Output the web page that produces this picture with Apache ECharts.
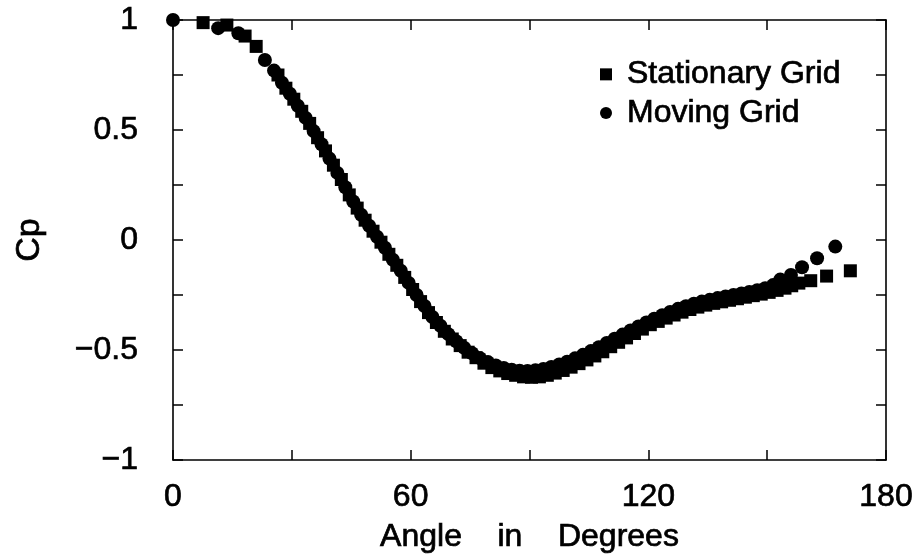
<!DOCTYPE html>
<html>
<head>
<meta charset="utf-8">
<script src="https://cdn.jsdelivr.net/npm/echarts@6/dist/echarts.min.js"></script>
<style>html,body{margin:0;padding:0;background:#fff;}#c{width:919px;height:555px;}</style>
</head>
<body>
<div id="c"></div>
<script>
// Stationary Grid (squares): angle in degrees, Cp
var stationaryAngle = [7.6,13.6,18.2,21,26.5,28.5,30.5,32.5,34.5,36.5,38.5,40.5,42.5,44.5,46.5,48.5,50.5,52.5,54.5,56.5,58.5,60.5,62.5,64.5,66.5,68.5,70.5,72.5,74.5,76.5,78.5,80.5,82.5,84.5,86.5,88.5,90.5,92.5,94.5,96.5,98.5,100.5,102.5,104.5,106.5,108.5,110.5,112.5,114.5,116.5,118.5,120.5,122.5,124.5,126.5,128.5,130.5,132.5,134.5,136.5,138.5,140.5,142.5,144.5,146.5,148.5,150.5,152.5,154.5,156.2,158,161,165,171];
var stationaryCp = [0.988,0.977,0.927,0.88,0.75,0.69,0.64,0.585,0.53,0.465,0.405,0.34,0.275,0.205,0.145,0.09,0.04,-0.01,-0.065,-0.115,-0.17,-0.225,-0.28,-0.33,-0.375,-0.415,-0.45,-0.48,-0.51,-0.535,-0.56,-0.58,-0.595,-0.607,-0.615,-0.622,-0.624,-0.622,-0.615,-0.605,-0.593,-0.578,-0.562,-0.545,-0.527,-0.508,-0.485,-0.465,-0.445,-0.425,-0.405,-0.385,-0.37,-0.355,-0.341,-0.328,-0.316,-0.305,-0.296,-0.288,-0.281,-0.274,-0.267,-0.26,-0.253,-0.246,-0.238,-0.229,-0.219,-0.208,-0.196,-0.185,-0.164,-0.14];
// Moving Grid (circles)
var movingAngle = [0,11.4,16.5,23.2,25.5,27.5,29.5,31.5,33.5,35.5,37.5,39.5,41.5,43.5,45.5,47.5,49.5,51.5,53.5,55.5,57.5,59.5,61.5,63.5,65.5,67.5,69.5,71.5,73.5,75.5,77.5,79.5,81.5,83.5,85.5,87.5,89.5,91.5,93.5,95.5,97.5,99.5,101.5,103.5,105.5,107.5,109.5,111.5,113.5,115.5,117.5,119.5,121.5,123.5,125.5,127.5,129.5,131.5,133.5,135.5,137.5,139.5,141.5,143.5,145.5,147.5,149.5,151.5,153.3,156,158.8,162.6,167.2];
var movingCp = [1.0,0.963,0.94,0.818,0.77,0.715,0.665,0.61,0.555,0.495,0.435,0.37,0.305,0.24,0.175,0.115,0.065,0.015,-0.035,-0.09,-0.14,-0.195,-0.25,-0.3,-0.35,-0.39,-0.428,-0.46,-0.49,-0.515,-0.537,-0.555,-0.57,-0.582,-0.59,-0.594,-0.595,-0.592,-0.586,-0.577,-0.566,-0.553,-0.538,-0.522,-0.505,-0.487,-0.468,-0.449,-0.43,-0.411,-0.393,-0.375,-0.358,-0.342,-0.327,-0.313,-0.301,-0.29,-0.28,-0.272,-0.264,-0.257,-0.25,-0.243,-0.236,-0.228,-0.219,-0.205,-0.18,-0.159,-0.124,-0.083,-0.03];

var seriesNames = ['Stationary Grid','Moving Grid'];
var xTickValues = [0,60,120,180];
var xTickLabels = ['0','60','120','180'];
var yTickValues = [-1,-0.5,0,0.5,1];
var yTickLabels = ['\u22121','\u22120.5','0','0.5','1'];
var xTitle = 'Angle    in    Degrees';
var yTitle = 'Cp';

function pairs(a,b){var r=[];for(var i=0;i<a.length;i++)r.push([a[i],b[i]]);return r;}
function lab(vals,labs){return function(v){for(var i=0;i<vals.length;i++){if(Math.abs(vals[i]-v)<1e-9)return labs[i];}return '';};}

var FONT = '"Liberation Sans", Arial, Helvetica, sans-serif';
var heavy = {textBorderColor:'#000',textBorderWidth:0.7};
function txt(size){return Object.assign({fontFamily:FONT,fontSize:size,color:'#000'},heavy);}
function axisCommon(){
  return {
    axisLine:{show:true,onZero:false,lineStyle:{color:'#000',width:1.6}},
    axisTick:{show:true,inside:true,length:10,lineStyle:{color:'#000',width:1.5}},
    splitLine:{show:false}
  };
}
var chart = echarts.init(document.getElementById('c'));
chart.setOption({
  backgroundColor:'#fff',
  animation:false,
  grid:{left:173,right:33,top:20,bottom:95,containLabel:false,outerBoundsMode:'none'},
  legend:{
    orient:'vertical', left:595, top:53, itemWidth:12, itemHeight:12, itemGap:6,
    data:[{name:seriesNames[0],icon:'rect'},{name:seriesNames[1],icon:'circle'}],
    textStyle:Object.assign(txt(32),{padding:[0,0,0,10]})
  },
  xAxis:[
    Object.assign({type:'value',min:0,max:180,interval:30,position:'bottom',
      name:xTitle,nameLocation:'middle',nameGap:61,
      nameTextStyle:txt(32),
      axisLabel:Object.assign({show:true,formatter:lab(xTickValues,xTickLabels),margin:21},txt(32))},axisCommon()),
    Object.assign({type:'value',min:0,max:180,interval:30,position:'top',axisLabel:{show:false}},axisCommon())
  ],
  yAxis:[
    Object.assign({type:'value',min:-1,max:1,interval:0.25,position:'left',
      name:yTitle,nameLocation:'middle',nameGap:126,
      nameTextStyle:txt(34),
      axisLabel:Object.assign({show:true,formatter:lab(yTickValues,yTickLabels),margin:35},txt(32))},axisCommon()),
    Object.assign({type:'value',min:-1,max:1,interval:0.25,position:'right',axisLabel:{show:false}},axisCommon())
  ],
  series:[
    {name:seriesNames[1],type:'scatter',symbol:'circle',symbolSize:14,clip:false,
     itemStyle:{color:'#000',opacity:1},data:pairs(movingAngle,movingCp),z:2},
    {name:seriesNames[0],type:'scatter',symbol:'rect',symbolSize:13,clip:false,
     itemStyle:{color:'#000',opacity:1},data:pairs(stationaryAngle,stationaryCp),z:3}
  ]
});
</script>
</body>
</html>
